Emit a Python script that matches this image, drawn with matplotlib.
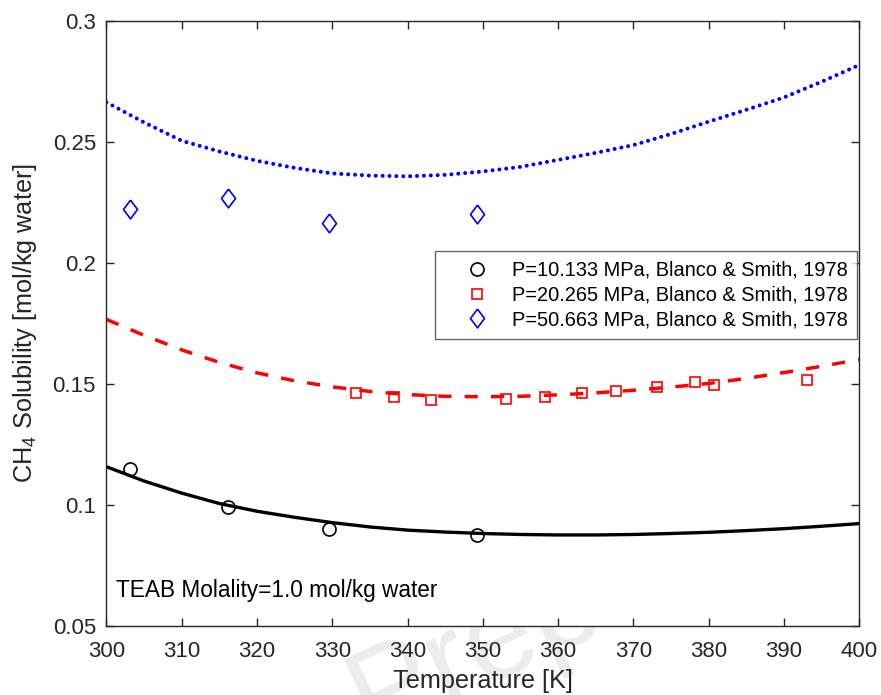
import matplotlib
matplotlib.use("Agg")
import matplotlib.pyplot as plt

plt.rcParams['font.family'] = ['Liberation Sans', 'DejaVu Sans']
plt.rcParams['mathtext.fontset'] = 'custom'
plt.rcParams['mathtext.rm'] = 'Liberation Sans'
plt.rcParams['mathtext.it'] = 'Liberation Sans:italic'

# ---- data ----
T_exp = [303.15, 316.2, 329.6, 349.2]
sol_10 = [0.1147, 0.0990, 0.0901, 0.0875]
sol_50 = [0.2221, 0.2266, 0.2165, 0.2202]

T_exp20 = [333.2, 338.2, 343.1, 353.1, 358.2, 363.2, 367.65, 373.1, 378.2, 380.7, 393.1]
sol_20 = [0.1463, 0.1445, 0.1433, 0.1436, 0.1445, 0.1462, 0.1471, 0.1488, 0.1508, 0.1494, 0.1517]

T_model = [300, 305, 310, 315, 320, 325, 330, 335, 340, 345, 350,
           355, 360, 365, 370, 375, 380, 385, 390, 395, 400]
model_10 = [0.1157, 0.1098, 0.1048, 0.1005, 0.0973, 0.0948, 0.0926, 0.0908, 0.0895, 0.0887, 0.0881,
            0.0877, 0.0875, 0.0875, 0.0877, 0.0881, 0.0886, 0.0893, 0.0901, 0.0911, 0.0922]
model_20 = [0.1766, 0.1700, 0.1640, 0.1588, 0.1545, 0.1512, 0.1487, 0.1468, 0.1455, 0.1448, 0.1446,
            0.1448, 0.1454, 0.1462, 0.1473, 0.1486, 0.1501, 0.1522, 0.1546, 0.1572, 0.1600]
model_50 = [0.2663, 0.2580, 0.2504, 0.2460, 0.2421, 0.2392, 0.2369, 0.2360, 0.2357, 0.2363, 0.2377,
            0.2396, 0.2425, 0.2454, 0.2486, 0.2532, 0.2583, 0.2632, 0.2683, 0.2748, 0.2817]

labels = ['P=10.133 MPa, Blanco & Smith, 1978',
          'P=20.265 MPa, Blanco & Smith, 1978',
          'P=50.663 MPa, Blanco & Smith, 1978']
xticks = [300, 310, 320, 330, 340, 350, 360, 370, 380, 390, 400]
yticks = [0.05, 0.1, 0.15, 0.2, 0.25, 0.3]
yticklabels = ['0.05', '0.1', '0.15', '0.2', '0.25', '0.3']

dark = '#262626'
fig = plt.figure(figsize=(8.81, 6.95), dpi=100)
fig.patch.set_facecolor('white')
ax = fig.add_axes([0.1207, 0.0997, 0.8547, 0.8705])
ax.set_facecolor('white')

# faint watermark, hidden behind the axes background
fig.text(0.42, -0.06, 'Preprint', rotation=25, fontsize=90,
         color='#ececec', zorder=-10, ha='left', va='baseline', rotation_mode='anchor')

ax.plot(T_model, model_10, color='k', lw=2.4, solid_capstyle='butt')
ax.plot(T_model, model_20, color='r', lw=2.5, dashes=(3.8, 3.8), dash_capstyle='butt')
ax.plot(T_model, model_50, color='#0000ff', lw=2.9, dashes=(0.01, 1.7), dash_capstyle='round')

h1, = ax.plot(T_exp, sol_10, 'o', ms=9.4, mfc='none', mec='k', mew=1.2, label=labels[0])
h2, = ax.plot(T_exp20, sol_20, 's', ms=7.8, mfc='none', mec='r', mew=1.2, label=labels[1])
diamond = [(0, 1), (0.75, 0), (0, -1), (-0.75, 0), (0, 1)]
h3, = ax.plot(T_exp, sol_50, marker=diamond, ls='none', ms=13.5, mfc='none',
              mec='#0000ff', mew=1.2, label=labels[2])

ax.set_xlim(300, 400)
ax.set_ylim(0.05, 0.3)
ax.set_xticks(xticks)
ax.set_yticks(yticks)
ax.set_yticklabels(yticklabels)
ax.tick_params(direction='in', length=6, width=1.0, colors=dark, labelsize=16,
               top=True, right=True)
ax.tick_params(axis='x', pad=11)
ax.tick_params(axis='y', pad=7.5)
for s in ax.spines.values():
    s.set_color(dark)
    s.set_linewidth(1.0)

ax.set_xlabel('Temperature [K]', fontsize=18.2, color=dark, labelpad=5)
ax.set_ylabel(r'CH$_4$ Solubility [mol/kg water]', fontsize=18.2, color=dark, labelpad=10)

ax.text(301.3, 0.0617, 'TEAB Molality=1.0 mol/kg water', fontsize=16.3, color='k',
        ha='left', va='baseline')

leg = ax.legend(handles=[h1, h2, h3], loc='upper left', bbox_to_anchor=(0.4365, 0.6193),
                fontsize=14.4, frameon=True, fancybox=False, borderpad=0.48,
                handlelength=3.21, handletextpad=0.145, labelspacing=0.295, borderaxespad=0)
leg.get_frame().set_edgecolor('#404040')
leg.get_frame().set_linewidth(1.0)

fig.savefig('out.png', dpi=100)
